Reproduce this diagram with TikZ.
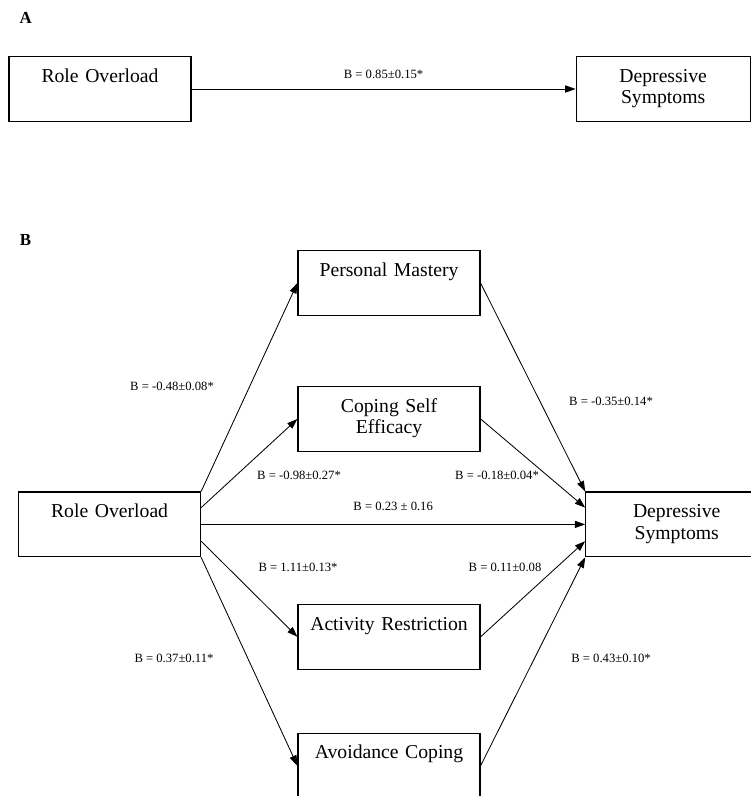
\documentclass[tikz,border=0pt]{standalone}
\usepackage{fontspec}
\setmainfont{Liberation Serif}
\usetikzlibrary{positioning,arrows.meta}

\begin{document}
\begin{tikzpicture}[
  box/.style={draw, line width=0.8pt, align=center, text width=4.55cm,
    inner xsep=0pt, inner ysep=0pt, text height=0.64cm, text depth=0.98cm,
    font=\fontsize{14}{15.5}\selectfont},
  lbl/.style={font=\fontsize{9}{10}\selectfont, inner sep=1pt},
  panel/.style={font=\fontsize{12}{14}\selectfont\bfseries, inner sep=0pt},
  arr/.style={line width=0.6pt, -{Triangle[length=2.6mm,width=1.8mm]}}
]
\useasboundingbox (0,0) rectangle (18.775,-19.9);

% panel A
\node[panel] (pa) at (0.64,-0.45) {A};
\node[box] (roA) at (2.5,-2.225) {Role Overload};
\node[box, text width=4.35cm, right=9.6cm of roA] (depA) {Depressive\\Symptoms};
\draw[arr] (roA) -- node[lbl, above=0.22cm] (lA) {B = 0.85±0.15*} (depA);

% panel B
\node[panel] (pb) at (0.64,-6.0) {B};
\node[box] (roB) at (2.74,-13.11) {Role Overload};
\node[box, right=9.6cm of roB] (depB) {Depressive\\Symptoms};
\node[box] (pm) at (9.725,-7.075) {Personal Mastery};
\node[box, below=1.75cm of pm] (cse) {Coping Self\\Efficacy};
\node[box, below=3.8cm of cse] (ar) {Activity Restriction};
\node[box, below=1.575cm of ar] (ac) {Avoidance Coping};

\draw[arr] (roB.north east) -- (pm.west);
\draw[arr] ([yshift=0.42cm]roB.east) -- (cse.west);
\draw[arr] (roB) -- node[lbl, above=0.3cm] (ldir) {B = 0.23 ± 0.16} (depB);
\draw[arr] ([yshift=-0.42cm]roB.east) -- (ar.west);
\draw[arr] (roB.south east) -- (ac.west);

\draw[arr] (pm.east) -- (depB.north west);
\draw[arr] (cse.east) -- ([yshift=0.42cm]depB.west);
\draw[arr] (ar.east) -- ([yshift=-0.42cm]depB.west);
\draw[arr] (ac.east) -- (depB.south west);

\node[lbl] (lpm) at (4.3,-9.65) {B = -0.48±0.08*};
\node[lbl] (lpmdep) at (15.275,-10.025) {B = -0.35±0.14*};
\node[lbl] (lcse) at (7.475,-11.875) {B = -0.98±0.27*};
\node[lbl] (lcsedep) at (12.425,-11.875) {B = -0.18±0.04*};
\node[lbl] (lar) at (7.45,-14.175) {B = 1.11±0.13*};
\node[lbl] (lardep) at (12.625,-14.175) {B = 0.11±0.08};
\node[lbl] (lac) at (4.35,-16.45) {B = 0.37±0.11*};
\node[lbl] (lacdep) at (15.275,-16.45) {B = 0.43±0.10*};
\end{tikzpicture}
\end{document}
